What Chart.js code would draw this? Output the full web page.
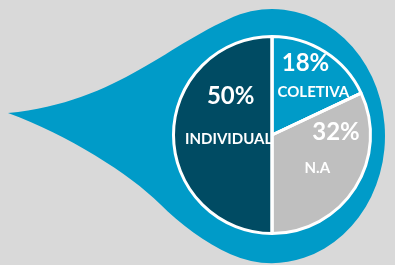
<!DOCTYPE html>
<html>
<head>
<meta charset="utf-8">
<script src="https://cdn.jsdelivr.net/npm/chart.js@4/dist/chart.umd.min.js"></script>
<style>
  html, body { margin: 0; padding: 0; background: #d9d9d9; }
  #wrap { position: relative; width: 395px; height: 265px; }
</style>
</head>
<body>
<div id="wrap"><canvas id="pieChart" width="395" height="265"></canvas></div>
<script>
// slice order runs clockwise from the top
const categories = ["COLETIVA", "N.A", "INDIVIDUAL"];
const shares = [18, 32, 50];
const sliceColors = ["#009bc8", "#bfbfbf", "#004b63"];

// where the two text lines sit, relative to the pie centre (px at radius 100)
const labelSpots = [
  { pct: [34, -73], name: [42, -44] },
  { pct: [65, -3], name: [46, 34] },
  { pct: [-42, -39], name: [-44, 4] }
];

// blue teardrop behind the pie
const teardrop = {
  id: "teardrop",
  beforeDraw(chart) {
    const ctx = chart.ctx;
    const arc = chart.getDatasetMeta(0).data[0];
    const cx = arc.x, cy = arc.y + 1, rx = 113, ry = 127;
    const a0 = Math.atan2(-0.961, -0.283);
    const a1 = Math.atan2(0.945, -0.372) + Math.PI * 2;
    const top = [cx + rx * Math.cos(a0), cy + ry * Math.sin(a0)];
    const bot = [cx + rx * Math.cos(a1), cy + ry * Math.sin(a1)];
    ctx.save();
    ctx.fillStyle = "#d9d9d9";
    ctx.fillRect(0, 0, chart.width, chart.height);
    ctx.fillStyle = "#009bc8";
    ctx.beginPath();
    ctx.moveTo(8, 113);
    ctx.bezierCurveTo(120, 102, 170, 41, top[0], top[1]);
    ctx.ellipse(cx, cy, rx, ry, 0, a0 + Math.PI * 2, a1);
    ctx.bezierCurveTo(bot[0] - 25, bot[1] - 11, 180, 224, 160, 204);
    ctx.bezierCurveTo(130, 174, 68, 135, 8, 113);
    ctx.closePath();
    ctx.fill();
    ctx.restore();
  }
};

// text inside each slice, clipped to the slice like the original
const sliceLabels = {
  id: "sliceLabels",
  afterDatasetsDraw(chart) {
    const ctx = chart.ctx;
    const meta = chart.getDatasetMeta(0);
    meta.data.forEach((arc, i) => {
      const k = arc.outerRadius / 100;
      const spot = labelSpots[i];
      ctx.save();
      ctx.beginPath();
      ctx.moveTo(arc.x, arc.y);
      ctx.arc(arc.x, arc.y, arc.outerRadius - 1.5, arc.startAngle, arc.endAngle);
      ctx.closePath();
      ctx.clip();
      ctx.fillStyle = "#ffffff";
      ctx.textAlign = "center";
      ctx.textBaseline = "middle";
      ctx.font = "bold 24px Lato";
      ctx.fillText(shares[i] + "%", arc.x + spot.pct[0] * k, arc.y + spot.pct[1] * k);
      ctx.font = "bold 15px Lato";
      ctx.fillText(categories[i], arc.x + spot.name[0] * k, arc.y + spot.name[1] * k);
      ctx.restore();
    });
    // redraw the white dividers over the text
    ctx.save();
    ctx.strokeStyle = "#ffffff";
    ctx.lineWidth = 3;
    meta.data.forEach(arc => {
      ctx.beginPath();
      ctx.moveTo(arc.x, arc.y);
      ctx.lineTo(arc.x + arc.outerRadius * Math.cos(arc.startAngle), arc.y + arc.outerRadius * Math.sin(arc.startAngle));
      ctx.stroke();
    });
    ctx.restore();
  }
};

new Chart(document.getElementById("pieChart"), {
  type: "pie",
  data: {
    labels: categories,
    datasets: [{
      data: shares,
      backgroundColor: sliceColors,
      borderColor: "#ffffff",
      borderWidth: 3
    }]
  },
  options: {
    responsive: false,
    animation: false,
    layout: { padding: { left: 172, right: 23, top: 35, bottom: 30 } },
    plugins: {
      legend: { display: false },
      tooltip: { enabled: false }
    }
  },
  plugins: [teardrop, sliceLabels]
});
</script>
</body>
</html>
